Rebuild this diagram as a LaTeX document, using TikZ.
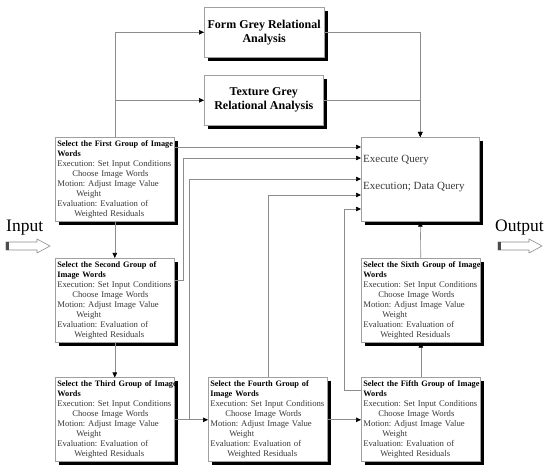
\documentclass[tikz,border=0pt]{standalone}
\usepackage{fontspec}
\setmainfont{Liberation Serif}
\usetikzlibrary{shadows,arrows.meta,calc}
\frenchspacing
\definecolor{lin}{HTML}{8C8C8C}
\definecolor{bord}{HTML}{A0A0A0}
\definecolor{bodyc}{HTML}{3A3A3A}
\tikzset{
  shbox/.style={draw=bord, line width=0.6pt, fill=white,
    drop shadow={fill=black, opacity=1, shadow xshift=3.5pt, shadow yshift=-3.5pt}},
  grp/.style={shbox, anchor=north west, minimum width=119pt, minimum height=84pt,
    text width=115pt, inner sep=2pt, align=left,
    font=\fontsize{8.7}{10}\selectfont, text=bodyc},
  ana/.style={shbox, anchor=north west, minimum width=119pt, minimum height=50pt,
    align=center, font=\fontsize{12}{14}\selectfont\bfseries},
  conn/.style={draw=lin, line width=0.6pt, -{Triangle[length=5pt,width=4.5pt,color=black]}},
  blockarr/.style={draw=lin, fill=white, line width=0.6pt},
  exetext/.style={anchor=west, font=\fontsize{11}{13}\selectfont, text=bodyc, inner sep=1pt},
  iotext/.style={font=\fontsize{17.5}{20}\selectfont, inner sep=0pt},
}
\newcommand{\grptext}[2]{\mbox{\color{black}\fontsize{8.3}{10}\selectfont\bfseries #1}\\\mbox{\color{black}\fontsize{8.3}{10}\selectfont\bfseries #2}\\\mbox{Execution: Set Input Conditions}\\\mbox{\hspace*{15pt}Choose Image Words}\\\mbox{Motion: Adjust Image Value}\\\mbox{\hspace*{19pt}Weight}\\\mbox{Evaluation: Evaluation of}\\\mbox{\hspace*{17pt}Weighted Residuals}}
\begin{document}
\begin{tikzpicture}[x=1pt,y=1pt]
\useasboundingbox (0,0) rectangle (550,-470);
% analysis boxes
\node[ana] (form) at (204,-7) {Form Grey Relational\\Analysis};
\node[ana] (tex) at (204,-75) {Texture Grey\\Relational Analysis};
% execute box
\node[shbox, anchor=north west, minimum width=118pt, minimum height=84pt] (exe) at (361,-137) {};
\node[exetext] (eq) at ([xshift=1pt,yshift=-23pt]exe.north west) {Execute Query};
\node[exetext] (ed) at ([xshift=1pt,yshift=-50pt]exe.north west) {Execution; Data Query};
% group boxes
\node[grp] (g1) at (55,-137) {\grptext{Select the First Group of Image}{Words}};
\node[grp] (g2) at (55,-258) {\grptext{Select the Second Group of}{Image Words}};
\node[grp] (g3) at (55,-377.5) {\grptext{Select the Third Group of Image}{Words}};
\node[grp] (g4) at (208,-377.5) {\grptext{Select the Fourth Group of}{Image Words}};
\node[grp] (g5) at (361,-377.5) {\grptext{Select the Fifth Group of Image}{Words}};
\node[grp] (g6) at (361,-258) {\grptext{Select the Sixth Group of Image}{Words}};
% connectors
\draw[conn] (g1.north) |- (form.west);
\draw[conn] (g1.north) |- (tex.west);
\draw[conn] (form.east) -| (exe.north);
\draw[conn] (tex.east) -| (exe.north);
\draw[conn] ([yshift=-10pt]g1.north east) -- ([yshift=-10pt]exe.north west);
\draw[conn] ([yshift=-22pt]g2.north east) -- ++(9,0) |- ([yshift=-21pt]exe.north west);
\draw[conn] (g3.east) -- (g4.west);
\draw[conn] ([xshift=15pt]g3.east) |- ([yshift=-42pt]exe.north west);
\draw[conn] (g4.north) |- ([yshift=-58pt]exe.north west);
\draw[conn] ([yshift=-12.5pt]g5.north west) -- ++(-17,0) |- ([yshift=-72pt]exe.north west);
\draw[conn] (g4.east) -- (g5.west);
\draw[conn] (g5.north) -- (g6.south);
\draw[conn] (g6.north) -- (exe.south);
\draw[conn] (g1.south) -- (g2.north);
\draw[conn] (g2.south) -- (g3.north);
% input / output
\node[iotext, anchor=base west] (inp) at (6,-232) {Input};
\node[iotext, anchor=base east] (outp) at (544,-232) {Output};
\draw[blockarr] (6,-242) -- (37,-242) -- (37,-239) -- (50,-246) -- (37,-253) -- (37,-250) -- (6,-250) -- cycle;
\fill[black!70] (6.3,-242.3) rectangle (9,-249.7);
\draw[blockarr] (498,-242) -- (529,-242) -- (529,-239) -- (542,-246) -- (529,-253) -- (529,-250) -- (498,-250) -- cycle;
\fill[black!70] (498.3,-242.3) rectangle (501,-249.7);
\end{tikzpicture}
\end{document}
